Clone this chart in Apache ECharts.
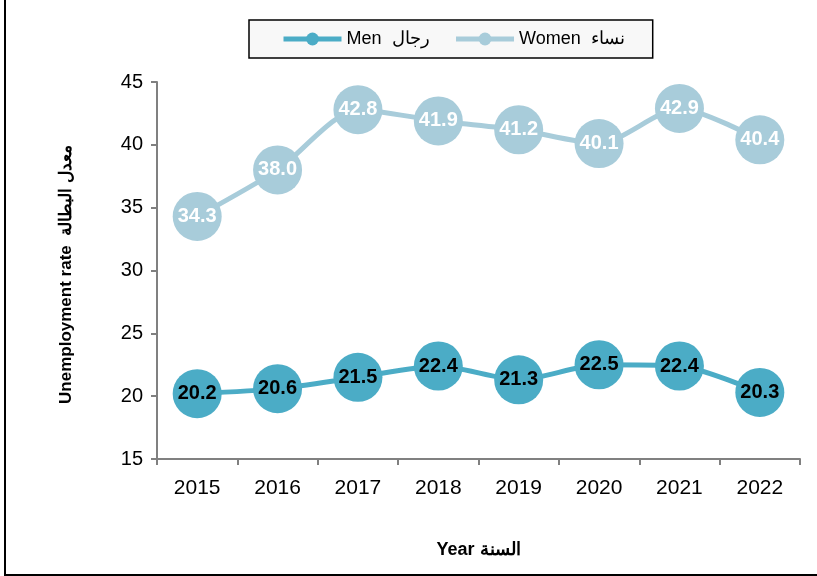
<!DOCTYPE html>
<html>
<head>
<meta charset="utf-8">
<script src="https://cdn.jsdelivr.net/npm/echarts@6/dist/echarts.min.js"></script>
<style>
  html, body { margin: 0; padding: 0; background: #fff; }
  #frame { position: absolute; left: 0; top: 0; width: 817px; height: 576px; }
  #chart { width: 817px; height: 576px; }
  #edgeL { position: absolute; left: 4px; top: 0; width: 2px; height: 576px; background: #000; }
  #edgeB { position: absolute; left: 4px; top: 574px; width: 813px; height: 2px; background: #000; }
</style>
</head>
<body>
<div id="frame">
  <div id="chart"></div>
  <div id="edgeL"></div>
  <div id="edgeB"></div>
</div>
<script>
const years = ['2015', '2016', '2017', '2018', '2019', '2020', '2021', '2022'];
const men = [20.2, 20.6, 21.5, 22.4, 21.3, 22.5, 22.4, 20.3];
const women = [34.3, 38.0, 42.8, 41.9, 41.2, 40.1, 42.9, 40.4];
const menName = 'Men  رجال';
const womenName = 'Women  نساء';

const menColor = '#4BACC6';
const womenColor = '#A8CCDA';
const font = 'Arial, "Liberation Sans", sans-serif';

const chart = echarts.init(document.getElementById('chart'));

const makeSeries = (name, data, color, labelColor) => ({
  name: name,
  type: 'line',
  data: data,
  smooth: 0.25,
  symbol: 'circle',
  symbolSize: 49,
  lineStyle: { color: color, width: 5 },
  itemStyle: { color: color },
  label: {
    show: true,
    position: 'inside',
    formatter: p => p.value.toFixed(1),
    color: labelColor,
    fontFamily: font,
    fontWeight: 'bold',
    fontSize: 20
  },
  emphasis: { disabled: true }
});

chart.setOption({
  animation: false,
  backgroundColor: '#fff',
  legend: {
    left: 249,
    top: 20,
    padding: [10, 28, 10, 32],
    itemGap: 24,
    itemWidth: 58,
    itemHeight: 16,
    backgroundColor: '#f8f8f8',
    borderColor: '#000',
    borderWidth: 1.5,
    borderRadius: 0,
    lineStyle: { width: 5 },
    textStyle: { fontFamily: font, fontSize: 18, color: '#000' },
    data: [menName, womenName]
  },
  grid: { left: 157, right: 17, top: 82, bottom: 117 },
  xAxis: {
    type: 'category',
    data: years,
    boundaryGap: true,
    name: 'Year السنة',
    nameLocation: 'middle',
    nameGap: 82,
    nameTextStyle: { fontFamily: font, fontSize: 18, fontWeight: 'bold', color: '#000' },
    axisLine: { lineStyle: { color: '#808080', width: 2 } },
    axisTick: { show: true, inside: false, length: 6, alignWithLabel: false, lineStyle: { color: '#808080', width: 2 } },
    axisLabel: { fontFamily: font, fontSize: 21, color: '#000', margin: 19 },
    splitLine: { show: false }
  },
  yAxis: {
    type: 'value',
    min: 15,
    max: 45,
    interval: 5,
    name: '{en|Unemployment rate}  {ar|معدل البطالة}',
    nameLocation: 'middle',
    nameRotate: 90,
    nameGap: 82,
    nameTextStyle: {
      fontFamily: font, fontSize: 17, fontWeight: 'bold', color: '#000',
      padding: [0, 8, 0, 0],
      rich: {
        en: { fontFamily: font, fontSize: 17, fontWeight: 'bold', color: '#000' },
        ar: { fontFamily: font, fontSize: 17, fontWeight: 'bold', color: '#000' }
      }
    },
    axisLine: { show: true, lineStyle: { color: '#808080', width: 2 } },
    axisTick: { show: true, length: 6, lineStyle: { color: '#808080', width: 2 } },
    axisLabel: { fontFamily: font, fontSize: 20, color: '#000', margin: 14 },
    splitLine: { show: false }
  },
  series: [
    makeSeries(menName, men, menColor, '#000'),
    makeSeries(womenName, women, womenColor, '#fff')
  ]
});
</script>
</body>
</html>
